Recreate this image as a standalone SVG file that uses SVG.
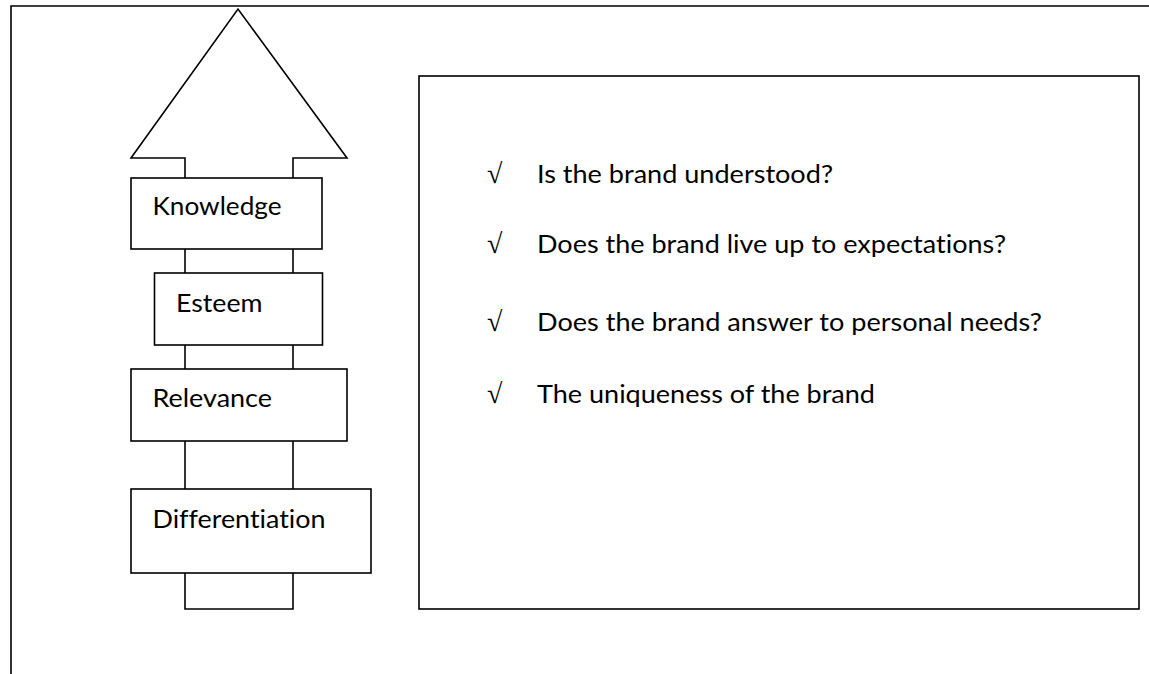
<svg xmlns="http://www.w3.org/2000/svg" width="1149" height="674" viewBox="0 0 1149 674">
<style>
.ln{fill:none;stroke:#000;stroke-width:1.6}
.box{fill:#fff;stroke:#000;stroke-width:1.6}
.t{font-family:Lato,"Open Sans","Liberation Sans",sans-serif;font-size:25.5px;fill:#000;font-variant-ligatures:none}
.ck{font-family:"Liberation Serif","DejaVu Serif",serif;font-size:28px;fill:#000}
</style>
<rect width="1149" height="674" fill="#fff"/>
<g id="frame">
<polyline class="ln" points="11,674 11,6 1149,6"/>
</g>
<g id="arrow-head">
<polyline class="ln" points="185,178 185,158 131,158 238,9 347,158 293,158 293,178" stroke-linejoin="miter"/>
</g>
<g id="connectors">
<line class="ln" x1="185" y1="249" x2="185" y2="273"/>
<line class="ln" x1="293" y1="249" x2="293" y2="273"/>
<line class="ln" x1="185" y1="345" x2="185" y2="369"/>
<line class="ln" x1="293" y1="345" x2="293" y2="369"/>
<line class="ln" x1="185" y1="441" x2="185" y2="489"/>
<line class="ln" x1="293" y1="441" x2="293" y2="489"/>
<polyline class="ln" points="185,573 185,609 293,609 293,573"/>
</g>
<g id="knowledge">
<rect class="box" x="131" y="178" width="191" height="71"/>
<text class="t" x="152.5" y="215" textLength="129" lengthAdjust="spacingAndGlyphs">Knowledge</text>
</g>
<g id="esteem">
<rect class="box" x="154.5" y="273" width="168" height="72"/>
<text class="t" x="176" y="311.5" textLength="86.5" lengthAdjust="spacingAndGlyphs">Esteem</text>
</g>
<g id="relevance">
<rect class="box" x="131" y="369" width="216" height="72"/>
<text class="t" x="152.5" y="406.5" textLength="119.5" lengthAdjust="spacingAndGlyphs">Relevance</text>
</g>
<g id="differentiation">
<rect class="box" x="131" y="489" width="240" height="84"/>
<text class="t" x="152.5" y="527.5" textLength="173" lengthAdjust="spacingAndGlyphs">Differentiation</text>
</g>
<g id="criteria">
<rect class="box" x="419" y="76" width="720" height="533"/>
<text class="ck" x="487" y="183">√</text>
<text class="t" x="537" y="183" textLength="296" lengthAdjust="spacingAndGlyphs">Is the brand understood?</text>
<text class="ck" x="487" y="253">√</text>
<text class="t" x="537" y="253" textLength="469" lengthAdjust="spacingAndGlyphs">Does the brand live up to expectations?</text>
<text class="ck" x="487" y="331">√</text>
<text class="t" x="537" y="331" textLength="505" lengthAdjust="spacingAndGlyphs">Does the brand answer to personal needs?</text>
<text class="ck" x="487" y="403">√</text>
<text class="t" x="537" y="403" textLength="338" lengthAdjust="spacingAndGlyphs">The uniqueness of the brand</text>
</g>
</svg>
